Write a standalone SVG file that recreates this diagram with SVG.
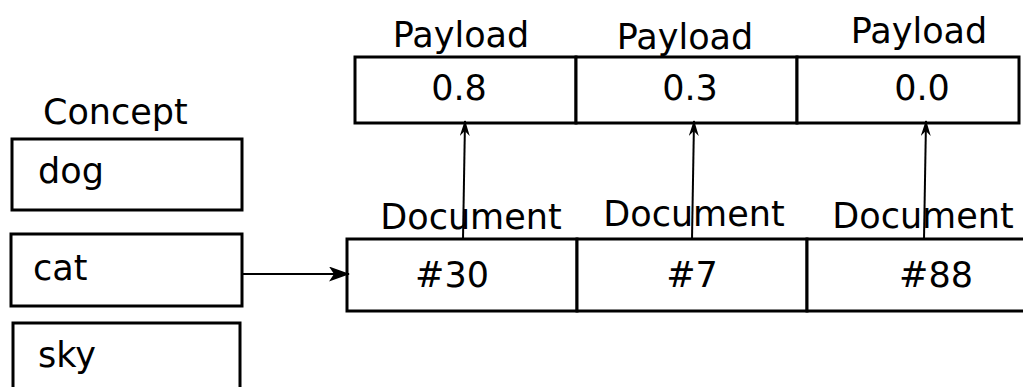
<svg xmlns="http://www.w3.org/2000/svg" width="1023" height="387" viewBox="0 0 1023 387">
<style>
.box{fill:#fff;stroke:#000;stroke-width:3}
.t{font-family:"DejaVu Sans",sans-serif;font-size:35px;fill:#000}
.m{text-anchor:middle}
.c{stroke:#000;stroke-width:2;fill:none}
</style>
<defs>
<marker id="ah" viewBox="0 0 16 10" refX="15" refY="5" markerWidth="16" markerHeight="10" markerUnits="userSpaceOnUse" orient="auto">
<path d="M0,0 L16,5 L0,10 L5,5 Z" fill="#000"/>
</marker>
<marker id="ah2" viewBox="0 0 21 15" refX="20" refY="7.5" markerWidth="21" markerHeight="15" markerUnits="userSpaceOnUse" orient="auto">
<path d="M0,0 L21,7.5 L0,15 L5,7.5 Z" fill="#000"/>
</marker>
</defs>
<text class="t" x="43" y="124">Concept</text>
<g id="dog"><rect class="box" x="12" y="139" width="230" height="71"/><text class="t" x="38" y="183">dog</text></g>
<g id="cat"><rect class="box" x="11" y="234" width="231" height="72"/><text class="t" x="33" y="280">cat</text></g>
<g id="sky"><rect class="box" x="13" y="323" width="227" height="70"/><text class="t" x="38" y="367">sky</text></g>
<g id="p1"><text class="t m" x="461" y="47">Payload</text><rect class="box" x="355" y="57" width="221" height="66"/><text class="t m" x="459" y="100">0.8</text></g>
<g id="p2"><text class="t m" x="685" y="49">Payload</text><rect class="box" x="576" y="57" width="221" height="66"/><text class="t m" x="690" y="100">0.3</text></g>
<g id="p3"><text class="t m" x="919" y="43">Payload</text><rect class="box" x="797" y="57" width="222" height="66"/><text class="t m" x="922" y="100">0.0</text></g>
<g id="d1"><text class="t m" x="471" y="229">Document</text><rect class="box" x="347" y="239" width="230" height="72"/><text class="t m" x="452" y="287">#30</text></g>
<g id="d2"><text class="t m" x="694" y="226">Document</text><rect class="box" x="577" y="239" width="230" height="72"/><text class="t m" x="692" y="287">#7</text></g>
<g id="d3"><text class="t m" x="923" y="228">Document</text><rect class="box" x="807" y="239" width="230" height="72"/><text class="t m" x="936" y="287">#88</text></g>
<g id="connectors">
<line class="c" x1="242" y1="274" x2="349" y2="274" stroke-width="3" marker-end="url(#ah2)"/>
<line class="c" x1="463" y1="239" x2="465" y2="121" marker-end="url(#ah)"/>
<line class="c" x1="692" y1="239" x2="694" y2="121" marker-end="url(#ah)"/>
<line class="c" x1="924" y1="239" x2="926" y2="121" marker-end="url(#ah)"/>
</g>
</svg>
